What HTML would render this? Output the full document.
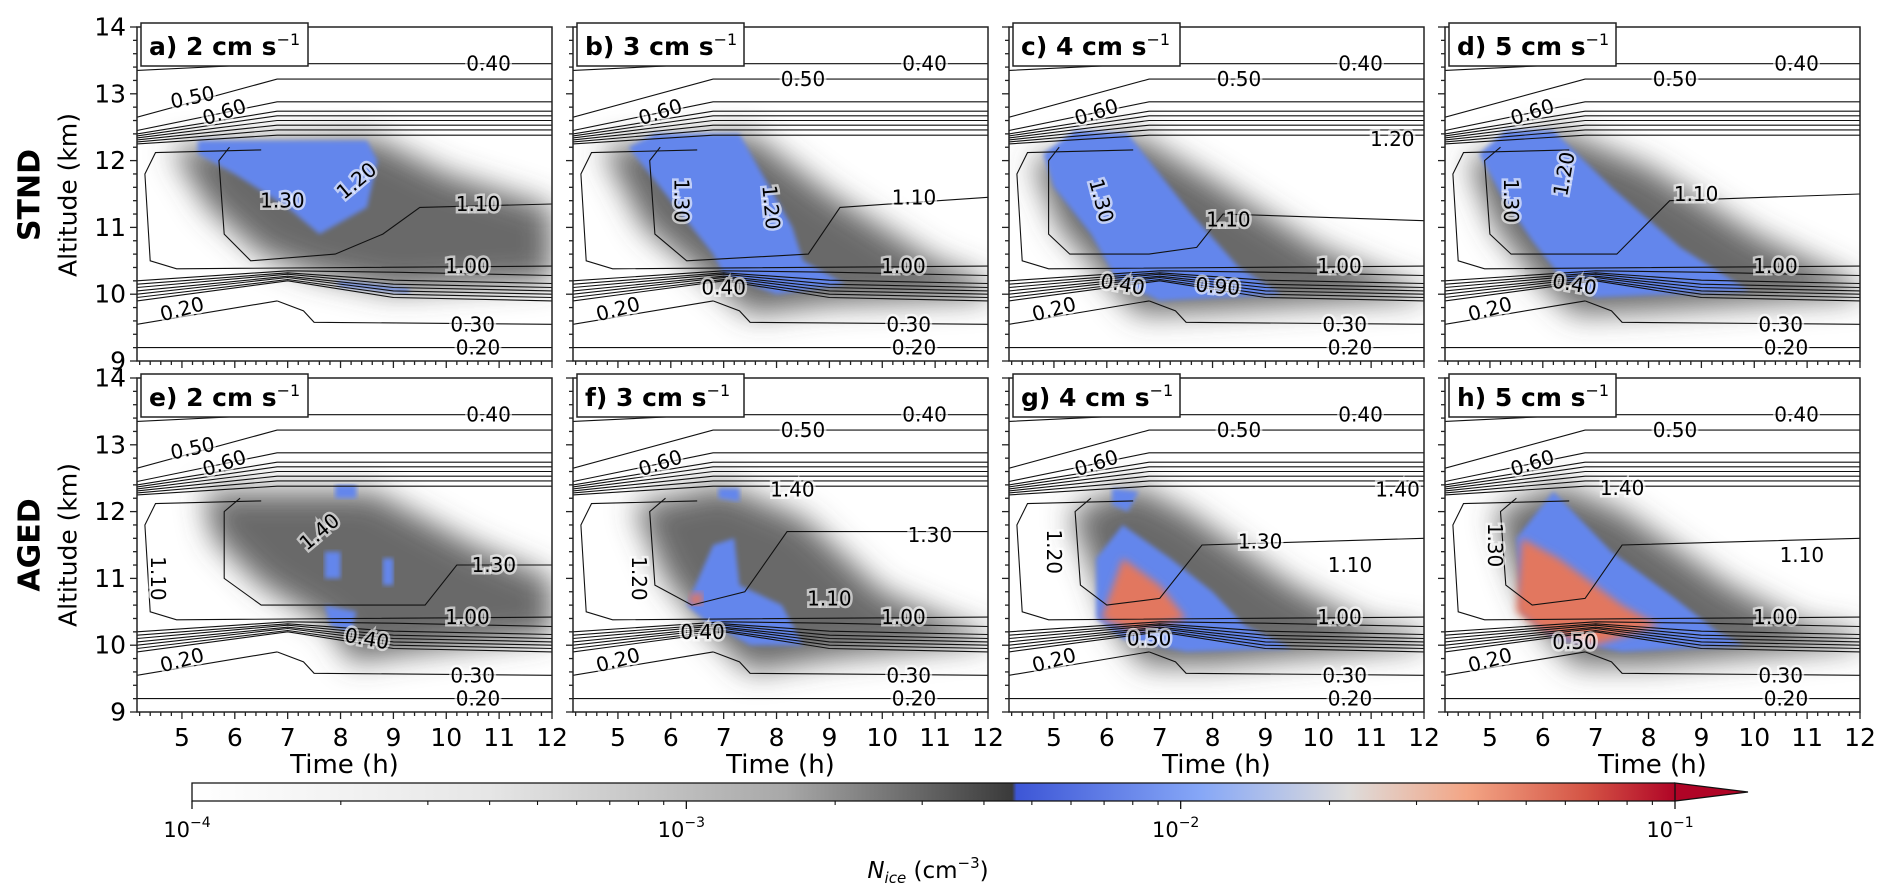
<!DOCTYPE html>
<html><head><meta charset="utf-8">
<style>
html,body{margin:0;padding:0;background:#fff;}
svg{display:block;font-family:"DejaVu Sans","Liberation Sans",sans-serif;}
</style></head>
<body>
<svg id="fig" width="1892" height="890" viewBox="0 0 1892 890" xmlns="http://www.w3.org/2000/svg">
<defs>
<filter id="blurG" x="-30%" y="-30%" width="160%" height="160%"><feGaussianBlur stdDeviation="15"/></filter>
<filter id="blurB" x="-10%" y="-10%" width="120%" height="120%"><feGaussianBlur stdDeviation="2.5"/></filter>
<filter id="blurR" x="-10%" y="-10%" width="120%" height="120%"><feGaussianBlur stdDeviation="4"/></filter>
<linearGradient id="cbgrad" x1="0" x2="1" y1="0" y2="0">
<stop offset="0" stop-color="#ffffff"/>
<stop offset="0.2" stop-color="#e6e6e6"/>
<stop offset="0.4" stop-color="#a8a8a8"/>
<stop offset="0.553" stop-color="#3a3a3a"/>
<stop offset="0.556" stop-color="#3d56d6"/>
<stop offset="0.68" stop-color="#86a7f7"/>
<stop offset="0.78" stop-color="#dedcdb"/>
<stop offset="0.86" stop-color="#f3a585"/>
<stop offset="0.94" stop-color="#d45445"/>
<stop offset="1" stop-color="#b00426"/>
</linearGradient>
</defs>
<g id="panels"></g>
<g id="cbar"></g>
<text x="30" y="195" transform="rotate(-90 30 195)" text-anchor="middle" dominant-baseline="central" font-weight="bold" font-size="30">STND</text>
<text x="68" y="195" transform="rotate(-90 68 195)" text-anchor="middle" dominant-baseline="central" font-size="25">Altitude (km)</text>
<text x="30" y="545" transform="rotate(-90 30 545)" text-anchor="middle" dominant-baseline="central" font-weight="bold" font-size="30">AGED</text>
<text x="68" y="545" transform="rotate(-90 68 545)" text-anchor="middle" dominant-baseline="central" font-size="25">Altitude (km)</text>
</svg>
<script>
const panelTitles = ["a) 2 cm s","b) 3 cm s","c) 4 cm s","d) 5 cm s","e) 2 cm s","f) 3 cm s","g) 4 cm s","h) 5 cm s"];
const xTicks = [5,6,7,8,9,10,11,12];
const yTicks = [9,10,11,12,13,14];
const upperLevels = ["0.40","0.50","0.60","0.70","0.80","0.90","1.00","1.10","1.20"];
const upperLeft = [13.35,12.65,12.45,12.40,12.37,12.34,12.31,12.28,12.25];
const upperKnee = [13.45,13.22,12.88,12.74,12.67,12.60,12.53,12.46,12.38];
const lowLeft = [9.90,9.95,10.00,10.05,10.10,10.15,10.20];
const lowKnee = [10.20,10.22,10.25,10.27,10.30,10.32,10.35];
const lowRight = [9.90,9.95,10.00,10.05,10.10,10.16,10.28];
const outerC = [[12,10.42],[4.9,10.38],[4.4,10.5],[4.3,11.8],[4.5,12.12],[6.5,12.16]];
const grays = [
 [[4.8,12.2],[8.6,12.35],[10,11.8],[12,11.3],[12,10.2],[9,10.05],[7.5,10.3],[6.5,10.6],[5.5,11.3]],
 [[4.7,12.2],[7.5,12.4],[9,11.5],[11,10.5],[12,10.2],[12,9.95],[9,9.85],[7.5,9.7],[6.6,10.3],[5.5,11.0]],
 [[4.6,12.0],[6.5,12.4],[8,11.7],[10,10.7],[11.5,10.2],[12,10.1],[12,9.95],[8,9.75],[6.6,9.7],[5.9,10.3],[5.1,11]],
 [[4.6,12.0],[6.3,12.45],[8,11.9],[10,10.9],[12,10.15],[12,9.97],[8,9.75],[6.6,9.7],[5.8,10.3],[5.1,11]],
 [[5.4,12.3],[8.6,12.3],[10.5,11.5],[12,11.0],[12,10.15],[9,9.85],[8.2,9.75],[7.8,10.3],[6.5,10.9],[5.6,11.6]],
 [[5.3,12.1],[7,12.4],[8.5,11.9],[10,10.8],[11.5,10.3],[12,10.2],[12,10.05],[9,9.8],[7.5,9.6],[6.6,10.3],[5.9,11]],
 [[5.3,12.0],[6.5,12.4],[7.5,12.0],[9.5,10.9],[11,10.3],[12,10.2],[12,10.0],[8,9.7],[6.7,9.7],[6.1,10.3],[5.8,11.0]],
 [[5.1,12.0],[6.3,12.4],[7.5,12.0],[9.5,10.9],[11,10.3],[12,10.2],[12,10.0],[8,9.7],[6.6,9.7],[5.9,10.3],[5.5,11]]
];
const blues = [
 [[[5.3,12.3],[8.5,12.3],[8.7,12.0],[8.5,11.3],[7.6,10.9],[7.0,11.3],[6.0,11.8],[5.3,12.1]],[[7.9,10.2],[9.3,10.08],[9.3,10.02],[8.0,10.12]]],
 [[[5.2,12.2],[5.7,12.4],[7.3,12.4],[8.3,11.0],[8.5,10.5],[9.3,10.15],[8,10.0],[7,10.3],[6.8,10.6],[5.6,11.8]]],
 [[[4.8,12.1],[5.4,12.45],[6.4,12.4],[7.6,11.2],[8.5,10.4],[9.3,10.0],[7,9.9],[6.2,10.2],[5.7,10.9],[5.0,11.6]]],
 [[[4.8,12.1],[5.3,12.45],[6.2,12.45],[7.3,11.6],[8.6,10.7],[9.9,10.05],[7,9.95],[6.3,10.3],[5.8,10.8],[5.2,11.5]]],
 [[[7.9,12.4],[8.3,12.4],[8.3,12.2],[7.9,12.2]],[[7.7,11.4],[8.0,11.4],[8.0,11.0],[7.7,11.0]],[[8.8,11.3],[9.0,11.3],[9.0,10.9],[8.8,10.9]],[[7.7,10.6],[8.3,10.5],[8.2,10.2],[7.8,10.3]]],
 [[[6.3,10.6],[6.8,11.5],[7.2,11.6],[7.3,10.9],[8.1,10.6],[8.5,10.0],[7.5,10.0],[6.6,10.4]],[[6.9,12.35],[7.3,12.35],[7.3,12.15],[6.9,12.2]]],
 [[[5.8,11.3],[6.3,11.8],[7.2,11.3],[8,10.8],[8.6,10.3],[9.5,9.95],[7.5,9.9],[6.3,10.1],[5.8,10.4]],[[6.1,12.35],[6.6,12.3],[6.4,12.0],[6.1,12.1]]],
 [[[5.5,11.6],[6.2,12.3],[7.3,11.4],[8.5,10.7],[9.3,10.2],[9.8,10.0],[7.5,9.9],[6.2,10.1],[5.6,10.5]]]
];
const reds = [[],[],[],[],[],[[[6.35,10.75],[6.6,10.8],[6.6,10.6],[6.35,10.6]]],
 [[[5.9,10.4],[6.3,11.3],[7,10.9],[7.5,10.4],[6.5,10.2]]],
 [[[5.5,10.5],[5.6,11.6],[6.3,11.3],[7.5,10.6],[8.2,10.3],[7,10.0],[6,10.2]]]];
const innerC = [
 [[12,11.35],[9.5,11.3],[8.8,10.9],[7.9,10.6],[6.3,10.5],[5.8,10.9],[5.7,12.0],[5.9,12.2]],
 [[12,11.45],[9.2,11.3],[8.6,10.6],[6.3,10.5],[5.7,10.9],[5.6,12.0],[5.8,12.2]],
 [[12,11.1],[8.2,11.2],[7.7,10.7],[6.8,10.6],[5.3,10.6],[4.9,10.9],[4.9,12.0],[5.1,12.2]],
 [[12,11.5],[8.4,11.4],[7.4,10.6],[5.4,10.6],[5.0,10.9],[4.9,12.0],[5.2,12.2]],
 [[12,11.2],[10.2,11.2],[9.6,10.6],[6.5,10.6],[5.8,11.0],[5.8,12.0],[6.1,12.2]],
 [[12,11.7],[8.2,11.7],[7.4,10.8],[6.4,10.6],[5.7,10.9],[5.6,12.0],[5.9,12.2]],
 [[12,11.6],[7.8,11.5],[7.0,10.7],[6.0,10.6],[5.5,10.9],[5.4,12.0],[5.7,12.2]],
 [[12,11.6],[7.5,11.5],[6.8,10.7],[5.8,10.6],[5.3,10.9],[5.2,12.0],[5.5,12.2]]
];
const commonLabels = [["0.40",10.8,13.45,0],["0.20",10.6,9.2,0],["0.30",10.5,9.55,0],["0.20",5.0,9.78,-15],["1.00",10.4,10.42,0],["0.60",5.8,12.73,-18]];
const panelLabels = [
 [["0.50",5.2,12.95,-12],["1.30",6.9,11.4,0],["1.20",8.3,11.7,-40],["1.10",10.6,11.35,0]],
 [["0.50",8.5,13.22,0],["1.30",6.2,11.4,90],["1.20",7.9,11.3,85],["1.10",10.6,11.45,0],["0.40",7.0,10.1,0]],
 [["0.50",8.5,13.22,0],["1.30",5.9,11.4,75],["1.10",8.3,11.12,0],["0.90",8.1,10.12,5],["0.40",6.3,10.15,10],["1.20",11.4,12.32,0]],
 [["0.50",8.5,13.22,0],["1.30",5.4,11.4,90],["1.20",6.4,11.8,-80],["1.10",8.9,11.5,0],["0.40",6.6,10.15,10]],
 [["0.50",5.2,12.95,-12],["1.40",7.6,11.7,-40],["1.30",10.9,11.2,0],["1.10",4.55,11.0,90],["0.40",8.5,10.1,10]],
 [["0.50",8.5,13.22,0],["1.40",8.3,12.33,0],["1.30",10.9,11.65,0],["1.20",5.4,11.0,90],["1.10",9.0,10.7,0],["0.40",6.6,10.2,0]],
 [["0.50",8.5,13.22,0],["1.30",8.9,11.55,0],["1.10",10.6,11.2,0],["1.20",5.0,11.4,90],["0.50",6.8,10.1,0],["1.40",11.5,12.33,0]],
 [["0.50",8.5,13.22,0],["1.40",7.5,12.35,0],["1.10",10.9,11.35,0],["1.30",5.1,11.5,90],["0.50",6.6,10.05,0]]
];
const cbTicks = ["-4","-3","-2","-1"];

const NS = "http://www.w3.org/2000/svg";
const W = 415, H = 334, tMin = 4.15, tMax = 12, aMin = 9, aMax = 14;
function mk(tag, attrs, parent){ const e=document.createElementNS(NS,tag); for(const k in attrs) e.setAttribute(k,attrs[k]); parent.appendChild(e); return e; }
const root = document.getElementById('panels');
for(let p=0;p<8;p++){
  const col=p%4,row=Math.floor(p/4);
  const L=137+col*(W+21), T=row===0?27:378;
  const X=t=>L+(t-tMin)/(tMax-tMin)*W;
  const Y=a=>T+(aMax-a)/(aMax-aMin)*H;
  const ptsStr=arr=>arr.map(q=>X(q[0]).toFixed(1)+","+Y(q[1]).toFixed(1)).join(" ");
  const g=mk('g',{},root);
  
  
  const cp=mk('clipPath',{id:'cp'+p},g);
  mk('rect',{x:L,y:T,width:W,height:H},cp);
  const plot=mk('g',{'clip-path':'url(#cp'+p+')'},g);
  const gp=mk('polygon',{points:ptsStr(grays[p]),fill:'#505050','fill-opacity':0.85,filter:'url(#blurG)'},plot);
  
  
  blues[p].forEach(b=>{
    const e=mk('polygon',{points:ptsStr(b),fill:'#6386ec',filter:'url(#blurB)'},plot);
    
    
  });
  reds[p].forEach(r=>{
    const e=mk('polygon',{points:ptsStr(r),fill:'#e2775e',filter:'url(#blurR)'},plot);
    
    
  });
  const cg=mk('g',{fill:'none',stroke:'#111','stroke-width':1.1},plot);
  
  
  for(let i=0;i<upperLevels.length;i++){
    const e=mk('polyline',{points:ptsStr([[tMin,upperLeft[i]],[6.8,upperKnee[i]],[tMax,upperKnee[i]]])},cg);
    
    
  }
  for(let i=0;i<lowLeft.length;i++){
    const e=mk('polyline',{points:ptsStr([[tMin,lowLeft[i]],[7.0,lowKnee[i]],[9.0,lowRight[i]+0.05],[tMax,lowRight[i]]])},cg);
    
    
  }
  [[[tMin,9.2],[tMax,9.2]],[[tMin,9.55],[6.8,9.9]],[[6.8,9.9],[7.3,9.75],[7.5,9.58],[tMax,9.55]],outerC,innerC[p]].forEach(c=>{
    const e=mk('polyline',{points:ptsStr(c)},cg);
    
    
  });
  commonLabels.concat(panelLabels[p]).forEach(lb=>{
    const x=X(lb[1]),y=Y(lb[2]);
    const lg=mk('g',{transform:'rotate('+lb[3]+' '+x+' '+y+')'},plot);
    const t=mk('text',{x:x,y:y,'text-anchor':'middle','dominant-baseline':'central','font-size':20,stroke:'#fff','stroke-width':5,'paint-order':'stroke','stroke-opacity':0.6},lg);
    t.textContent=lb[0];
    
    
  });
  const fr=mk('rect',{x:L,y:T,width:W,height:H,fill:'none',stroke:'#222','stroke-width':1.5},g);
  
  
  const tb=mk('g',{},g);
  
  
  mk('rect',{x:L+4,y:T-4,width:167,height:43,fill:'#fff',stroke:'#222','stroke-width':1.5},tb);
  const tt=mk('text',{x:L+12,y:T+28,'font-size':25,'font-weight':'bold'},tb);
  tt.textContent=panelTitles[p];
  const sup=mk('tspan',{dy:-10,'font-size':16,'font-weight':'normal'},tt);
  sup.textContent='\u22121';
  const tk=mk('g',{stroke:'#222','stroke-width':1.3},g);
  
  
  for(let a=9;a<=14.0001;a+=0.2){
    const maj=Math.abs(a-Math.round(a))<0.01;
    mk('line',{x1:L,x2:L-(maj?7:4),y1:Y(a),y2:Y(a)},tk);
  }
  for(let t=4.2;t<=12.0001;t+=0.2){
    const maj=Math.abs(t-Math.round(t))<0.01;
    mk('line',{x1:X(t),x2:X(t),y1:T+H,y2:T+H+(maj?7:4)},tk);
  }
  if(col===0){
    yTicks.forEach(v=>{
      const e=mk('text',{x:L-11,y:Y(v),'text-anchor':'end','dominant-baseline':'central','font-size':25},g);
      e.textContent=v;
      
      
    });
  }
  if(row===1){
    xTicks.forEach(v=>{
      const e=mk('text',{x:X(v),y:T+H+34,'text-anchor':'middle','font-size':25},g);
      e.textContent=v;
      
      
    });
    const xl=mk('text',{x:L+W/2,y:773,'text-anchor':'middle','font-size':26},g);
    xl.textContent='Time (h)';
    
    
  }
}
const cb=document.getElementById('cbar');
const cbL=192, cbR=1675, cbT=783, cbB=801;
const cbX=e=>cbL+(e+4)/3*(cbR-cbL);
const cr=mk('rect',{x:cbL,y:cbT,width:cbR-cbL,height:cbB-cbT,fill:'url(#cbgrad)'},cb);


const ar=mk('polygon',{points:`${cbR},${cbT} 1748,${(cbT+cbB)/2} ${cbR},${cbB}`,fill:'#b00426',stroke:'#111','stroke-width':1.3},cb);


mk('polyline',{points:`${cbR},${cbT} ${cbL},${cbT} ${cbL},${cbB} ${cbR},${cbB}`,fill:'none',stroke:'#111','stroke-width':1.3},cb);
cbTicks.forEach((v,i)=>{
  const e0=-4+i, x=cbX(e0);
  mk('line',{x1:x,x2:x,y1:cbB,y2:cbB+8,stroke:'#111','stroke-width':1.3},cb);
  if(i<3){ for(let m=2;m<=9;m++){ const xm=cbX(e0+Math.log10(m)); mk('line',{x1:xm,x2:xm,y1:cbB,y2:cbB+4,stroke:'#111','stroke-width':1.1},cb);} }
  const t=mk('text',{x:x-5,y:837,'text-anchor':'middle','font-size':21},cb);
  t.textContent='10';
  const s=mk('tspan',{dy:-10,'font-size':14},t);
  s.textContent='\u2212'+v.replace('-','');
  
  
});
const cl=mk('text',{x:928,y:878,'text-anchor':'middle','font-size':23},cb);


const n=mk('tspan',{'font-style':'italic'},cl); n.textContent='N';
const sb=mk('tspan',{'font-style':'italic','font-size':15,dy:5},cl); sb.textContent='ice';
const r1=mk('tspan',{dy:-5},cl); r1.textContent=' (cm';
const r2=mk('tspan',{dy:-10,'font-size':15},cl); r2.textContent='\u22123';
const r3=mk('tspan',{dy:10},cl); r3.textContent=')';
</script>
</body></html>
